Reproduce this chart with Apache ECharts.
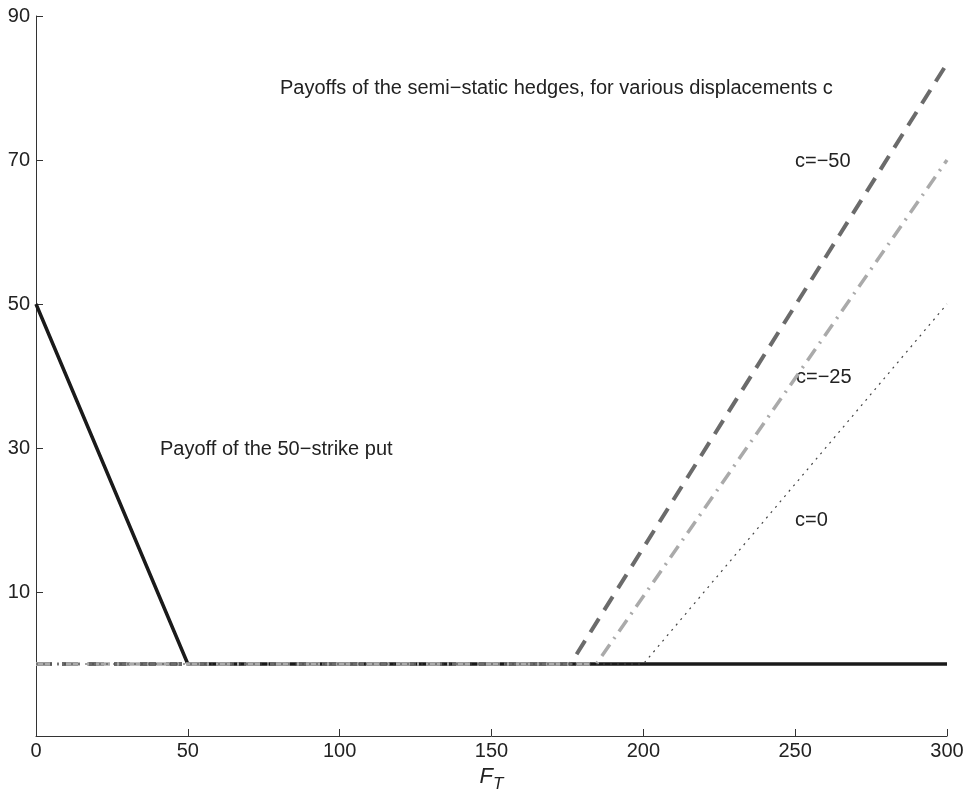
<!DOCTYPE html>
<html>
<head>
<meta charset="utf-8">
<script src="https://cdn.jsdelivr.net/npm/echarts@6/dist/echarts.min.js"></script>
<style>
  html, body { margin: 0; padding: 0; background: #fff; }
  #main { width: 971px; height: 793px; }
</style>
</head>
<body>
<div id="main"></div>
<script>
// x ticks and y ticks
var xTicks = [0, 50, 100, 150, 200, 250, 300];
var yTicks = [10, 30, 50, 70, 90];

// payoff of the 50-strike put
var putX = [0, 50, 300];
var putY = [50, 0, 0];

// semi-static hedges, c = -50, -25, 0
var hedgeM50X = [0, 176, 300];
var hedgeM50Y = [0, 0, 83.4];
var hedgeM25X = [0, 184.5, 300];
var hedgeM25Y = [0, 0, 70];
var hedge0X = [0, 200, 300];
var hedge0Y = [0, 0, 50];

function pts(xs, ys) {
  return xs.map(function (x, i) { return [x, ys[i]]; });
}

var font = 'Liberation Sans, Arial, Helvetica, sans-serif';
var txt = '20px ' + font;

window.onload = function () {
  var ch = echarts.init(document.getElementById('main'));
  var op = {
    animation: false,
    backgroundColor: '#fff',
    grid: { left: 36, right: 24, top: 16, bottom: 57, containLabel: false, outerBoundsMode: 'none' },
    xAxis: {
      type: 'value',
      min: 0, max: 300, interval: 50,
      axisLine: { show: true, onZero: false, lineStyle: { color: '#333', width: 1 } },
      axisTick: { show: true, inside: true, length: 7, lineStyle: { color: '#333' } },
      splitLine: { show: false },
      axisLabel: { color: '#222', fontSize: 20, fontFamily: font, margin: 5 },
      name: '{f|F}{s|T}',
      nameLocation: 'middle',
      nameGap: 24,
      nameTextStyle: {
        rich: {
          f: { fontSize: 22, fontStyle: 'italic', fontFamily: font, color: '#222' },
          s: { fontSize: 17, fontStyle: 'italic', fontFamily: font, color: '#222', padding: [14, 0, 0, 0] }
        }
      }
    },
    yAxis: {
      type: 'value',
      min: -10, max: 90, interval: 20,
      axisLine: { show: true, onZero: false, lineStyle: { color: '#333', width: 1 } },
      axisTick: { show: true, inside: true, length: 7, lineStyle: { color: '#333' } },
      splitLine: { show: false },
      axisLabel: {
        color: '#222', fontSize: 20, fontFamily: font, margin: 6,
        formatter: function (v) { return yTicks.indexOf(v) >= 0 ? String(v) : ''; }
      }
    },
    graphic: [
      { type: 'text', x: 280, y: 88, style: { text: 'Payoffs of the semi\u2212static hedges, for various displacements c', font: txt, fill: '#222', verticalAlign: 'middle' } },
      { type: 'text', x: 795, y: 161, style: { text: 'c=\u221250', font: txt, fill: '#222', verticalAlign: 'middle' } },
      { type: 'text', x: 796, y: 377, style: { text: 'c=\u221225', font: txt, fill: '#222', verticalAlign: 'middle' } },
      { type: 'text', x: 795, y: 520, style: { text: 'c=0', font: txt, fill: '#222', verticalAlign: 'middle' } },
      { type: 'text', x: 160, y: 449, style: { text: 'Payoff of the 50\u2212strike put', font: txt, fill: '#222', verticalAlign: 'middle' } }
    ],
    series: [
      {
        name: 'put', type: 'line', symbol: 'none',
        data: pts(putX, putY),
        lineStyle: { color: '#1a1a1a', width: 3.5, type: 'solid' }
      },
      {
        name: 'c=-50', type: 'line', symbol: 'none',
        data: pts(hedgeM50X, hedgeM50Y),
        lineStyle: { color: '#6b6b6b', width: 4, type: [16, 10] }
      },
      {
        name: 'c=-25', type: 'line', symbol: 'none',
        data: pts(hedgeM25X, hedgeM25Y),
        lineStyle: { color: '#aaaaaa', width: 3.5, type: [14, 7, 2, 7] }
      },
      {
        name: 'c=0', type: 'line', symbol: 'none',
        data: pts(hedge0X, hedge0Y),
        lineStyle: { color: '#444', width: 1.2, type: [2, 5] }
      }
    ]
  };
  ch.setOption(op);
};
</script>
</body>
</html>
